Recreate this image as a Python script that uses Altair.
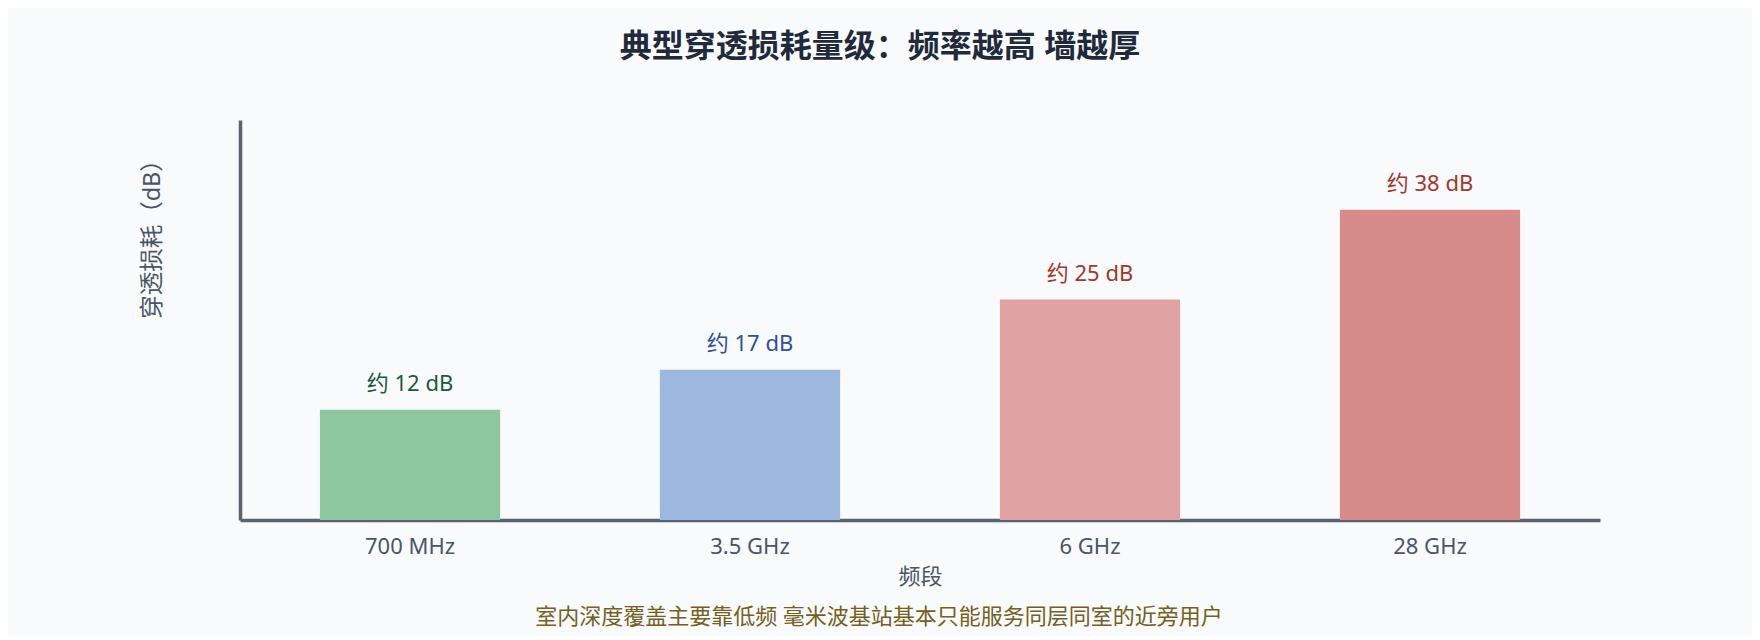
import altair as alt
import pandas as pd

bands = ["700 MHz", "3.5 GHz", "6 GHz", "28 GHz"]
loss = [13.5, 18.4, 27.0, 38.0]
labels = ["约 12 dB", "约 17 dB", "约 25 dB", "约 38 dB"]
bar_colors = ["#8dc7a0", "#9db8df", "#e0a2a2", "#d78a8a"]
label_colors = ["#1d5a3a", "#2d4f9c", "#a3372b", "#a3372b"]
title_text = "典型穿透损耗量级：频率越高 墙越厚"
footer_text = "室内深度覆盖主要靠低频 毫米波基站基本只能服务同层同室的近旁用户"

df = pd.DataFrame({"band": bands, "loss": loss, "label": labels})
df["band_lbl"] = df["band"]

FONT = '"Noto Sans", "Noto Sans CJK SC", sans-serif'
AXIS_COLOR = "#5a6272"
TEXT_COLOR = "#4a5566"

x = alt.X(
    "band:N",
    sort=bands,
    scale=alt.Scale(paddingInner=0.47, paddingOuter=0.235),
    axis=alt.Axis(
        title="频段", labelAngle=0, ticks=False, labelPadding=16, titlePadding=9,
        domainWidth=3.5, domainColor=AXIS_COLOR, labelFontSize=22, titleFontSize=22,
        labelColor=TEXT_COLOR, titleColor=TEXT_COLOR, titleFontWeight="normal",
        grid=False, labelFont=FONT, titleFont=FONT,
    ),
)
y = alt.Y(
    "loss:Q",
    scale=alt.Scale(domain=[0, 49], nice=False, zero=True),
    axis=alt.Axis(
        title="穿透损耗（dB）", labels=False, ticks=False, grid=False,
        domainWidth=3.5, domainColor=AXIS_COLOR, titleX=-88, titleY=113,
        titleAngle=270, titleAlign="center", titleBaseline="middle",
        titleFontSize=23.5, titleFontWeight="normal", titleColor=TEXT_COLOR, titleFont=FONT,
    ),
)

bars = alt.Chart(df).mark_bar().encode(
    x=x, y=y,
    color=alt.Color("band:N", scale=alt.Scale(domain=bands, range=bar_colors), legend=None),
)
text = alt.Chart(df).mark_text(baseline="middle", dy=-26, fontSize=22, font=FONT).encode(
    x=alt.X("band:N", sort=bands),
    y="loss:Q",
    text="label:N",
    color=alt.Color("band_lbl:N", scale=alt.Scale(domain=bands, range=label_colors), legend=None),
)
footer = alt.Chart(pd.DataFrame({"t": [footer_text]})).mark_text(
    baseline="middle", align="center", fontSize=22, font=FONT, color="#75601c"
).encode(x=alt.value(639), y=alt.value(497), text="t:N")

chart = alt.layer(bars, text, footer).resolve_scale(color="independent").properties(
    width=1360, height=400,
    title=alt.TitleParams(
        text=title_text, fontSize=32, fontWeight="bold", color="#1f2a3a",
        font=FONT, anchor="middle", offset=56, dx=-40,
    ),
    autosize=alt.AutoSizeParams(type="none"),
    padding={"left": 232, "top": 112, "right": 152, "bottom": 116},
    background="#f8fafc",
).configure_view(stroke=None)

chart.save("out.html", embed_options={"renderer": "svg", "actions": False})
